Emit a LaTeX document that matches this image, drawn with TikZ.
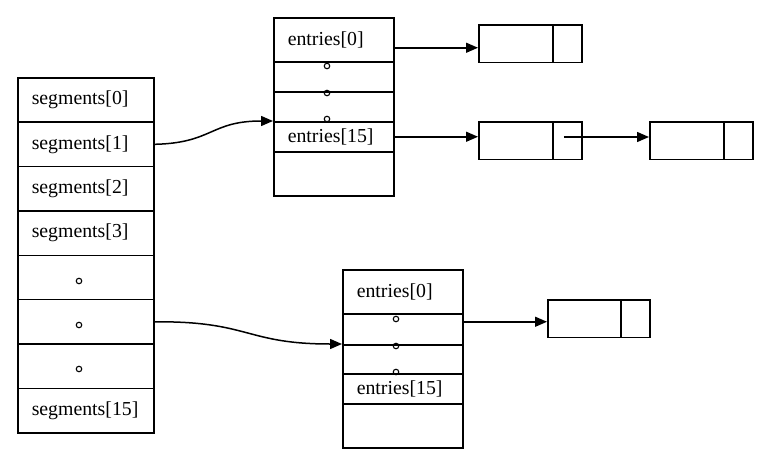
\documentclass[tikz,border=0pt]{standalone}
\usepackage{fontspec}
\setmainfont{Liberation Serif}
\usetikzlibrary{arrows.meta}
\begin{document}
\begin{tikzpicture}[x=1pt,y=-1pt,
  every node/.style={font=\fontsize{19.8}{23}\selectfont},
  lw/.style={line width=1.5pt},
  segcell/.style={draw, lw, text width=108pt, inner xsep=14pt, inner ysep=0pt,
    minimum height=#1, align=left, anchor=north west},
  entcell/.style={draw, lw, text width=92pt, inner xsep=14pt, inner ysep=0pt,
    minimum height=#1, align=left, anchor=north west},
  datapart/.style={draw, lw, minimum width=#1, minimum height=37.5pt, inner sep=0pt, anchor=north west},
  dotmark/.style={circle, draw, line width=1.1pt, inner sep=0pt, minimum size=5.5pt},
  arr/.style={lw, -{Triangle[length=12pt,width=10pt]}}
]
\useasboundingbox (0,0) rectangle (763,458);

% segments column
\node[segcell=44.375pt] (s0) at (17,77) {segments[0]};
\node[segcell=44.375pt] (s1) at (17,121.375) {segments[1]};
\node[segcell=44.375pt] (s2) at (17,165.75) {segments[2]};
\node[segcell=44.375pt] (s3) at (17,210.125) {segments[3]};
\node[segcell=44.375pt] (s4) at (17,254.5) {};
\node[segcell=44.375pt] (s5) at (17,298.875) {};
\node[segcell=44.375pt] (s6) at (17,343.25) {};
\node[segcell=44.375pt] (s7) at (17,387.625) {segments[15]};
\node[dotmark] (sd4) at (79,281) {};
\node[dotmark] (sd5) at (79,325) {};
\node[dotmark] (sd6) at (79,369) {};

% top entries table
\node[entcell=44pt] (t0) at (273,17) {entries[0]\\[-4pt]};
\node[entcell=30pt] (t1) at (273,61) {};
\node[entcell=30pt] (t2) at (273,91) {};
\node[entcell=30pt] (t3) at (273,121) {entries[15]};
\node[entcell=44pt] (t4) at (273,151) {};
\node[dotmark] (td1) at (327,66) {};
\node[dotmark] (td2) at (327,93) {};
\node[dotmark] (td3) at (327,119) {};

% bottom entries table
\node[entcell=44pt] (u0) at (342,269) {entries[0]\\[-4pt]};
\node[entcell=31pt] (u1) at (342,313) {};
\node[entcell=29pt] (u2) at (342,344) {};
\node[entcell=30pt] (u3) at (342,373) {entries[15]};
\node[entcell=44pt] (u4) at (342,403) {};
\node[dotmark] (ud1) at (396,319) {};
\node[dotmark] (ud2) at (396,346) {};
\node[dotmark] (ud3) at (396,372) {};

% list boxes
\node[datapart=74pt] (b1a) at (478,24) {};
\node[datapart=29pt] (b1b) at (552,24) {};
\node[datapart=74pt] (b2a) at (478,121) {};
\node[datapart=29pt] (b2b) at (552,121) {};
\node[datapart=74pt] (b3a) at (649,121) {};
\node[datapart=29pt] (b3b) at (723,121) {};
\node[datapart=73pt] (b4a) at (547,299) {};
\node[datapart=29pt] (b4b) at (620,299) {};

% connectors
\draw[arr] (s1.east) .. controls (213,143) and (210,121) .. (t3.north west);
\draw[arr] (s5.east) .. controls (250,321) and (245,344) .. (u2.north west);

\coordinate (p0) at ([yshift=-8pt]t0.east);
\draw[arr] (p0) -- (p0 -| b1a.west);
\draw[arr] (t3.east) -- (t3.east -| b2a.west);
\coordinate (p2) at ([shift={(-3.5pt,3.5pt)}]b2b.center);
\draw[arr] (p2) -- (p2 -| b3a.west);
\coordinate (p3) at ([yshift=7.5pt]u1.east);
\draw[arr] (p3) -- (p3 -| b4a.west);
\end{tikzpicture}
\end{document}
